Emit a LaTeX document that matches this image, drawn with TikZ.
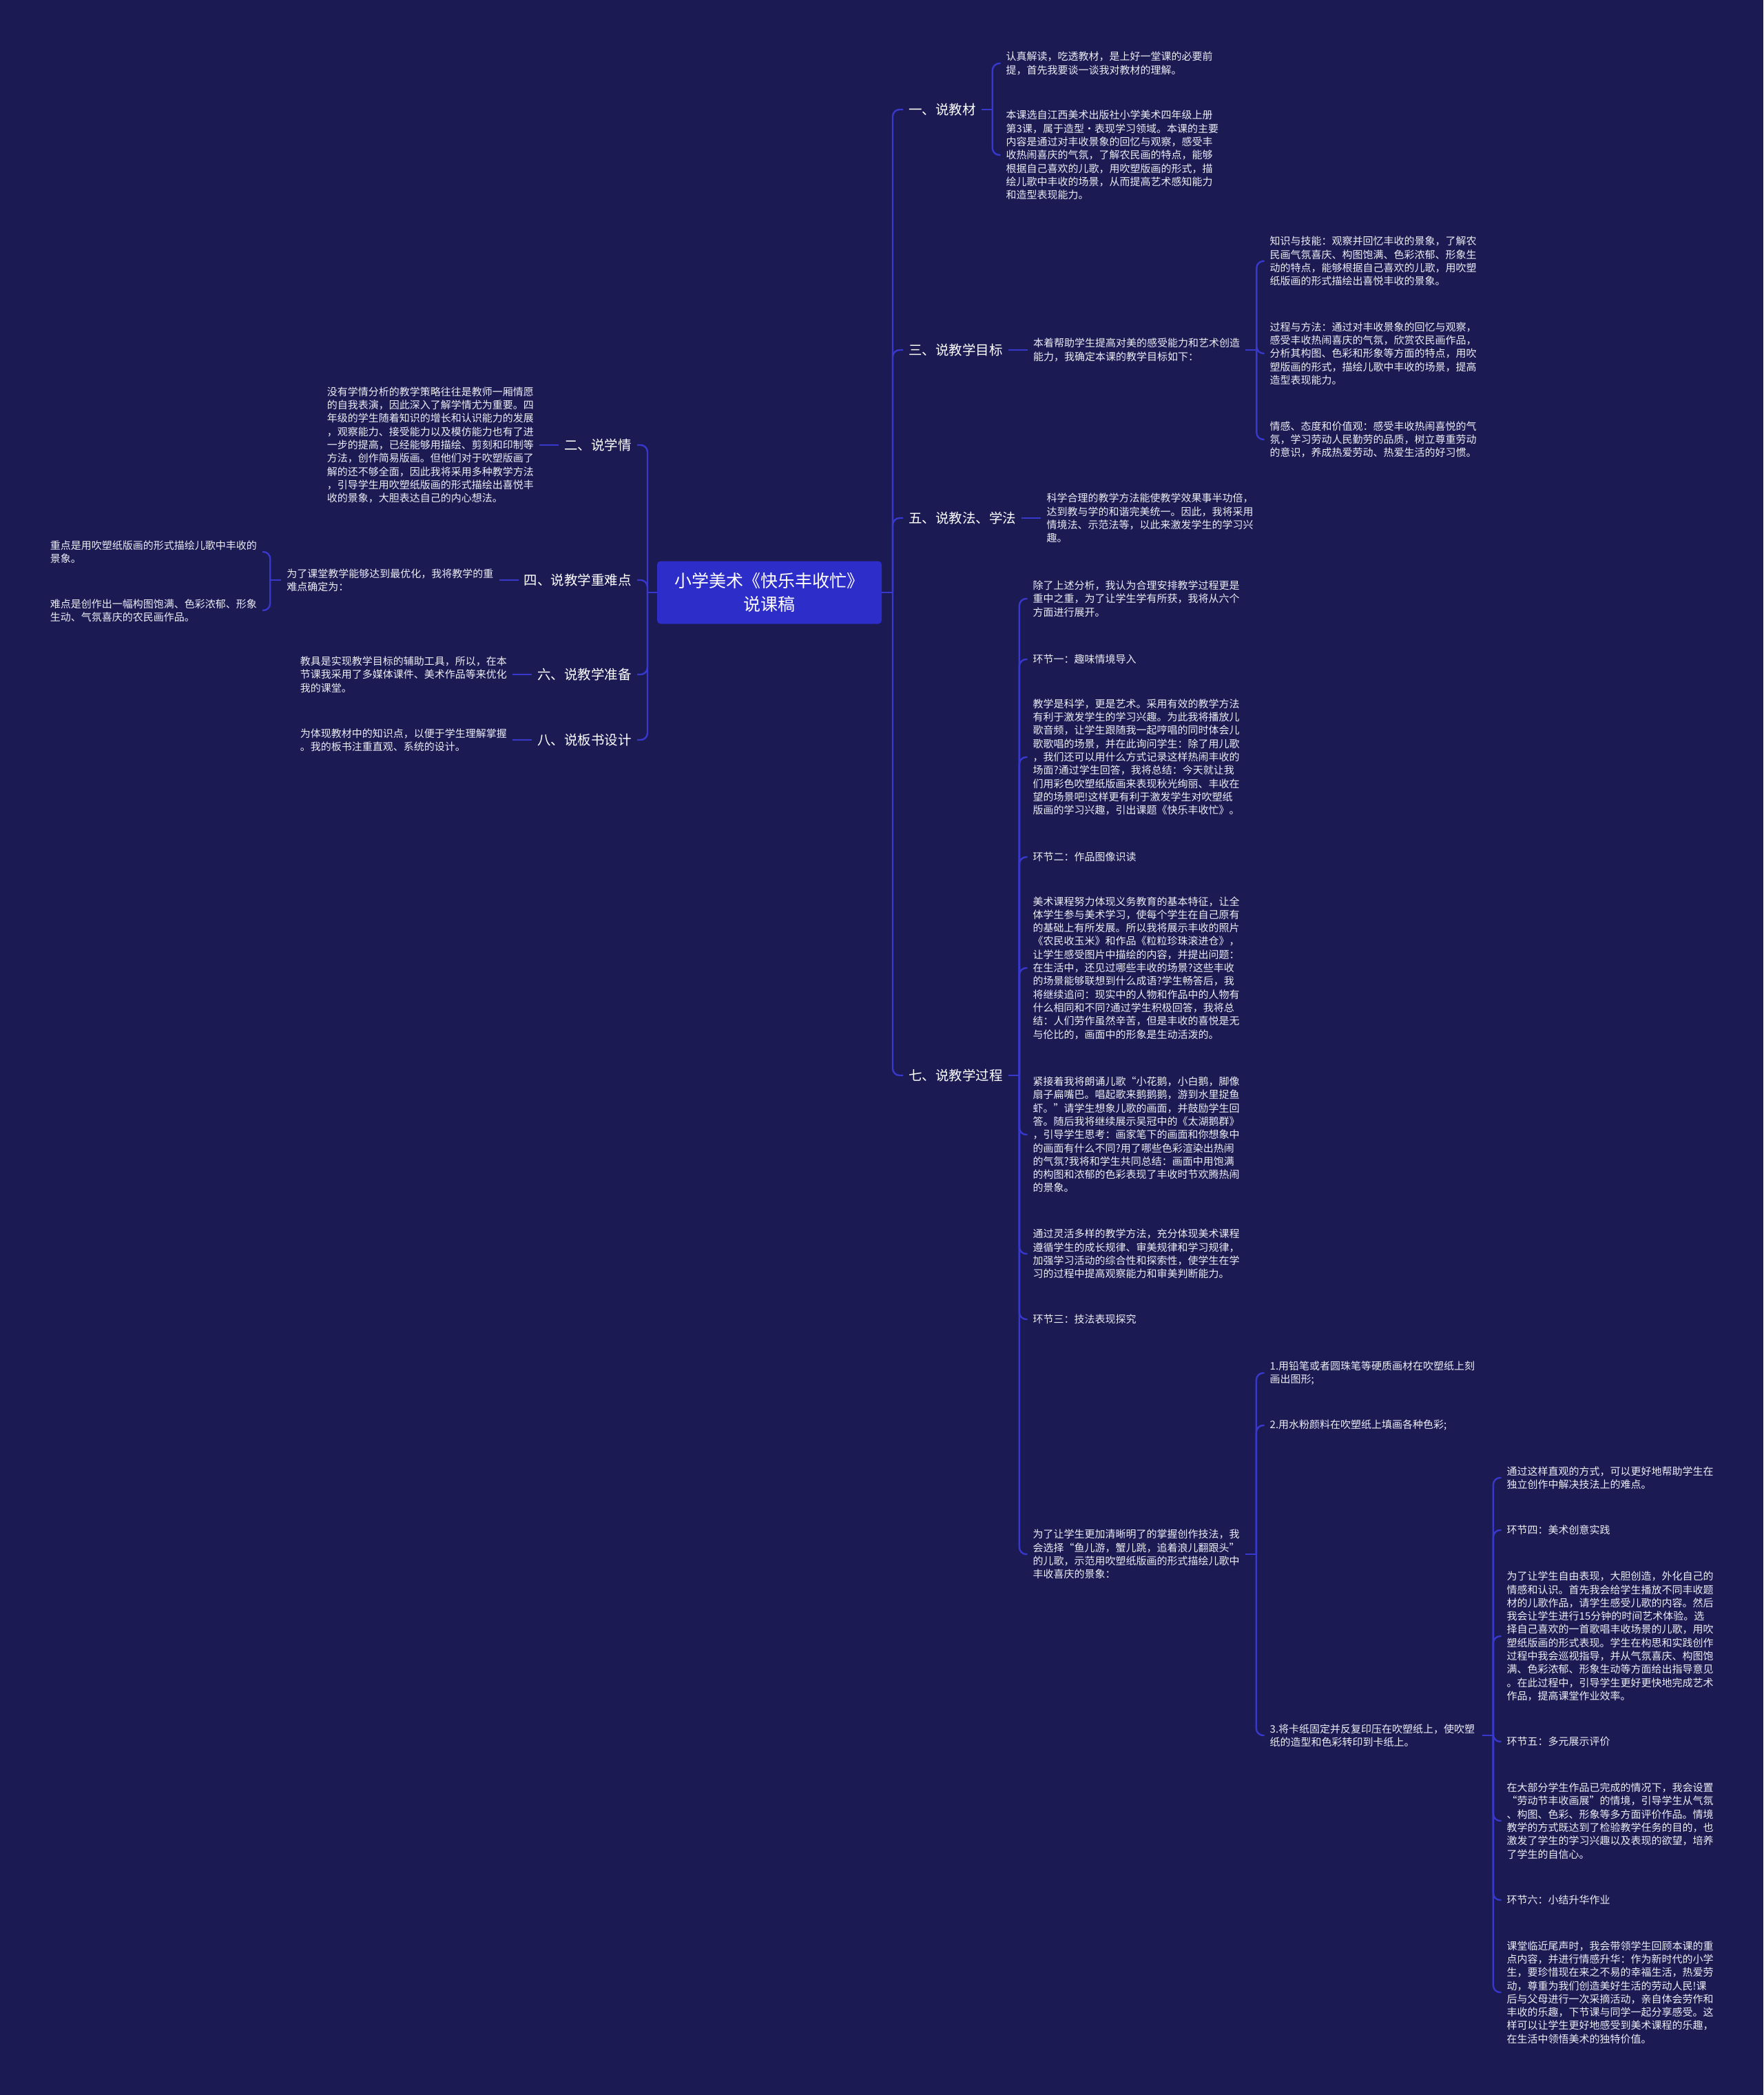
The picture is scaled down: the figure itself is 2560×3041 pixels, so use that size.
\documentclass[tikz,border=0pt]{standalone}
\usepackage{fontspec}
\setmainfont{Noto Sans CJK SC}
\usepackage{tikz}
\usetikzlibrary{positioning}
\definecolor{bgnavy}{HTML}{1B1A53}
\definecolor{rootblue}{HTML}{2D2DC9}
\definecolor{linkblue}{HTML}{3838CC}
\definecolor{leafwhite}{HTML}{EDEDF5}

\begin{document}
\begin{tikzpicture}[x=1pt,y=-1pt,
 root/.style={fill=rootblue,rounded corners=5pt,text=white,minimum width=326pt,minimum height=91pt,align=center,font=\fontsize{25}{34}\selectfont},
 branch/.style={text=white,inner xsep=8pt,inner ysep=2pt,font=\fontsize{19.5}{24}\selectfont},
 leaf/.style={text=leafwhite,text width=300pt,align=left,inner xsep=8pt,inner ysep=0pt,font=\fontsize{15}{19.3}\selectfont},
 link/.style={draw=linkblue,line width=2.4pt,rounded corners=10pt}]
\fill[bgnavy] (0,0) rectangle (2560,3041);
\useasboundingbox (0,0) rectangle (2560,3041);

\node[root](root) at (1117,860){小学美术《快乐丰收忙》\\说课稿};

% right side
\node[branch,anchor=west](b1) at (1311,159){一、说教材};
\node[branch,anchor=west](b3) at (1311,508){三、说教学目标};
\node[branch,anchor=west](b5) at (1311,752){五、说教法、学法};
\node[branch,anchor=west](b7) at (1311,1561){七、说教学过程};

\node[leaf,anchor=west](t1a) at (1452.5,92){认真解读，吃透教材，是上好一堂课的必要前\\提，首先我要谈一谈我对教材的理解。};
\node[leaf,anchor=west](t1b) at (1452.5,225){本课选自江西美术出版社小学美术四年级上册\\第3课，属于造型·表现学习领域。本课的主要\\内容是通过对丰收景象的回忆与观察，感受丰\\收热闹喜庆的气氛，了解农民画的特点，能够\\根据自己喜欢的儿歌，用吹塑版画的形式，描\\绘儿歌中丰收的场景，从而提高艺术感知能力\\和造型表现能力。};

\node[leaf,right=28pt of b3](m3){本着帮助学生提高对美的感受能力和艺术创造\\能力，我确定本课的教学目标如下：};
\node[leaf,anchor=west](g1) at (1835.5,379){知识与技能：观察并回忆丰收的景象，了解农\\民画气氛喜庆、构图饱满、色彩浓郁、形象生\\动的特点，能够根据自己喜欢的儿歌，用吹塑\\纸版画的形式描绘出喜悦丰收的景象。};
\node[leaf,anchor=west](g2) at (1835.5,513){过程与方法：通过对丰收景象的回忆与观察，\\感受丰收热闹喜庆的气氛，欣赏农民画作品，\\分析其构图、色彩和形象等方面的特点，用吹\\塑版画的形式，描绘儿歌中丰收的场景，提高\\造型表现能力。};
\node[leaf,anchor=west](g3) at (1835.5,638){情感、态度和价值观：感受丰收热闹喜悦的气\\氛，学习劳动人民勤劳的品质，树立尊重劳动\\的意识，养成热爱劳动、热爱生活的好习惯。};

\node[leaf,right=28pt of b5](t5){科学合理的教学方法能使教学效果事半功倍，\\达到教与学的和谐完美统一。因此，我将采用\\情境法、示范法等，以此来激发学生的学习兴\\趣。};

\node[leaf,anchor=west](p1) at (1491.5,869){除了上述分析，我认为合理安排教学过程更是\\重中之重，为了让学生学有所获，我将从六个\\方面进行展开。};
\node[leaf,anchor=west](p2) at (1491.5,957){环节一：趣味情境导入};
\node[leaf,anchor=west](p3) at (1491.5,1099){教学是科学，更是艺术。采用有效的教学方法\\有利于激发学生的学习兴趣。为此我将播放儿\\歌音频，让学生跟随我一起哼唱的同时体会儿\\歌歌唱的场景，并在此询问学生：除了用儿歌\\，我们还可以用什么方式记录这样热闹丰收的\\场面?通过学生回答，我将总结：今天就让我\\们用彩色吹塑纸版画来表现秋光绚丽、丰收在\\望的场景吧!这样更有利于激发学生对吹塑纸\\版画的学习兴趣，引出课题《快乐丰收忙》。};
\node[leaf,anchor=west](p4) at (1491.5,1244){环节二：作品图像识读};
\node[leaf,anchor=west](p5) at (1491.5,1405){美术课程努力体现义务教育的基本特征，让全\\体学生参与美术学习，使每个学生在自己原有\\的基础上有所发展。所以我将展示丰收的照片\\《农民收玉米》和作品《粒粒珍珠滚进仓》，\\让学生感受图片中描绘的内容，并提出问题：\\在生活中，还见过哪些丰收的场景?这些丰收\\的场景能够联想到什么成语?学生畅答后，我\\将继续追问：现实中的人物和作品中的人物有\\什么相同和不同?通过学生积极回答，我将总\\结：人们劳作虽然辛苦，但是丰收的喜悦是无\\与伦比的，画面中的形象是生动活泼的。};
\node[leaf,anchor=west](p6) at (1491.5,1647){紧接着我将朗诵儿歌“小花鹅，小白鹅，脚像\\扇子扁嘴巴。唱起歌来鹅鹅鹅，游到水里捉鱼\\虾。”请学生想象儿歌的画面，并鼓励学生回\\答。随后我将继续展示吴冠中的《太湖鹅群》\\，引导学生思考：画家笔下的画面和你想象中\\的画面有什么不同?用了哪些色彩渲染出热闹\\的气氛?我将和学生共同总结：画面中用饱满\\的构图和浓郁的色彩表现了丰收时节欢腾热闹\\的景象。};
\node[leaf,anchor=west](p7) at (1491.5,1820){通过灵活多样的教学方法，充分体现美术课程\\遵循学生的成长规律、审美规律和学习规律，\\加强学习活动的综合性和探索性，使学生在学\\习的过程中提高观察能力和审美判断能力。};
\node[leaf,anchor=west](p8) at (1491.5,1915){环节三：技法表现探究};
\node[leaf,anchor=west](p9) at (1491.5,2256){为了让学生更加清晰明了的掌握创作技法，我\\会选择“鱼儿游，蟹儿跳，追着浪儿翻跟头”\\的儿歌，示范用吹塑纸版画的形式描绘儿歌中\\丰收喜庆的景象：};

\node[leaf,anchor=west](s1) at (1835.5,1993){1.用铅笔或者圆珠笔等硬质画材在吹塑纸上刻\\画出图形;};
\node[leaf,anchor=west](s2) at (1835.5,2069){2.用水粉颜料在吹塑纸上填画各种色彩;};
\node[leaf,anchor=west](s3) at (1835.5,2519){3.将卡纸固定并反复印压在吹塑纸上，使吹塑\\纸的造型和色彩转印到卡纸上。};

\node[leaf,anchor=west](k1) at (2179.5,2145){通过这样直观的方式，可以更好地帮助学生在\\独立创作中解决技法上的难点。};
\node[leaf,anchor=west](k2) at (2179.5,2221){环节四：美术创意实践};
\node[leaf,anchor=west](k3) at (2179.5,2375){为了让学生自由表现，大胆创造，外化自己的\\情感和认识。首先我会给学生播放不同丰收题\\材的儿歌作品，请学生感受儿歌的内容。然后\\我会让学生进行15分钟的时间艺术体验。选\\择自己喜欢的一首歌唱丰收场景的儿歌，用吹\\塑纸版画的形式表现。学生在构思和实践创作\\过程中我会巡视指导，并从气氛喜庆、构图饱\\满、色彩浓郁、形象生动等方面给出指导意见\\。在此过程中，引导学生更好更快地完成艺术\\作品，提高课堂作业效率。};
\node[leaf,anchor=west](k4) at (2179.5,2528){环节五：多元展示评价};
\node[leaf,anchor=west](k5) at (2179.5,2643){在大部分学生作品已完成的情况下，我会设置\\“劳动节丰收画展”的情境，引导学生从气氛\\、构图、色彩、形象等多方面评价作品。情境\\教学的方式既达到了检验教学任务的目的，也\\激发了学生的学习兴趣以及表现的欲望，培养\\了学生的自信心。};
\node[leaf,anchor=west](k6) at (2179.5,2758){环节六：小结升华作业};
\node[leaf,anchor=west](k7) at (2179.5,2892){课堂临近尾声时，我会带领学生回顾本课的重\\点内容，并进行情感升华：作为新时代的小学\\生，要珍惜现在来之不易的幸福生活，热爱劳\\动，尊重为我们创造美好生活的劳动人民!课\\后与父母进行一次采摘活动，亲自体会劳作和\\丰收的乐趣，下节课与同学一起分享感受。这\\样可以让学生更好地感受到美术课程的乐趣，\\在生活中领悟美术的独特价值。};

% left side
\node[branch,anchor=east](b2) at (925,646){二、说学情};
\node[branch,anchor=east](b4) at (925,842){四、说教学重难点};
\node[branch,anchor=east](b6) at (925,979){六、说教学准备};
\node[branch,anchor=east](b8) at (925,1074){八、说板书设计};

\node[leaf,left=28pt of b2](t2){没有学情分析的教学策略往往是教师一厢情愿\\的自我表演，因此深入了解学情尤为重要。四\\年级的学生随着知识的增长和认识能力的发展\\，观察能力、接受能力以及模仿能力也有了进\\一步的提高，已经能够用描绘、剪刻和印制等\\方法，创作简易版画。但他们对于吹塑版画了\\解的还不够全面，因此我将采用多种教学方法\\，引导学生用吹塑纸版画的形式描绘出喜悦丰\\收的景象，大胆表达自己的内心想法。};
\node[leaf,left=28pt of b4](m4){为了课堂教学能够达到最优化，我将教学的重\\难点确定为：};
\node[leaf,anchor=east](d1) at (381,801){重点是用吹塑纸版画的形式描绘儿歌中丰收的\\景象。};
\node[leaf,anchor=east](d2) at (381,886){难点是创作出一幅构图饱满、色彩浓郁、形象\\生动、气氛喜庆的农民画作品。};
\node[leaf,left=28pt of b6](t6){教具是实现教学目标的辅助工具，所以，在本\\节课我采用了多媒体课件、美术作品等来优化\\我的课堂。};
\node[leaf,left=28pt of b8](t8){为体现教材中的知识点，以便于学生理解掌握\\。我的板书注重直观、系统的设计。};

% connectors
\draw[link](root.east)--(1296,860) coordinate(rj);
\foreach \n in {b1,b3,b5,b7} \draw[link](rj)|-(\n.west);
\draw[link](root.west)--(940,860) coordinate(lj);
\foreach \n in {b2,b4,b6,b8} \draw[link](lj)|-(\n.east);

\draw[link](b1.east)--++(16,0) coordinate(j1);
\foreach \n in {t1a,t1b} \draw[link](j1)|-(\n.west);
\draw[link](b3.east)--(m3.west);
\draw[link](m3.east)--++(16,0) coordinate(j3);
\foreach \n in {g1,g2,g3} \draw[link](j3)|-(\n.west);
\draw[link](b5.east)--(t5.west);
\draw[link](b7.east)--++(16,0) coordinate(j7);
\foreach \n in {p1,p2,p3,p4,p5,p6,p7,p8,p9} \draw[link](j7)|-(\n.west);
\draw[link](p9.east)--++(16,0) coordinate(j9);
\foreach \n in {s1,s2,s3} \draw[link](j9)|-(\n.west);
\draw[link](s3.east)--++(16,0) coordinate(js);
\foreach \n in {k1,k2,k3,k4,k5,k6,k7} \draw[link](js)|-(\n.west);

\draw[link](b2.west)--(t2.east);
\draw[link](b4.west)--(m4.east);
\draw[link](m4.west)--++(-16,0) coordinate(j4);
\foreach \n in {d1,d2} \draw[link](j4)|-(\n.east);
\draw[link](b6.west)--(t6.east);
\draw[link](b8.west)--(t8.east);
\end{tikzpicture}
\end{document}
